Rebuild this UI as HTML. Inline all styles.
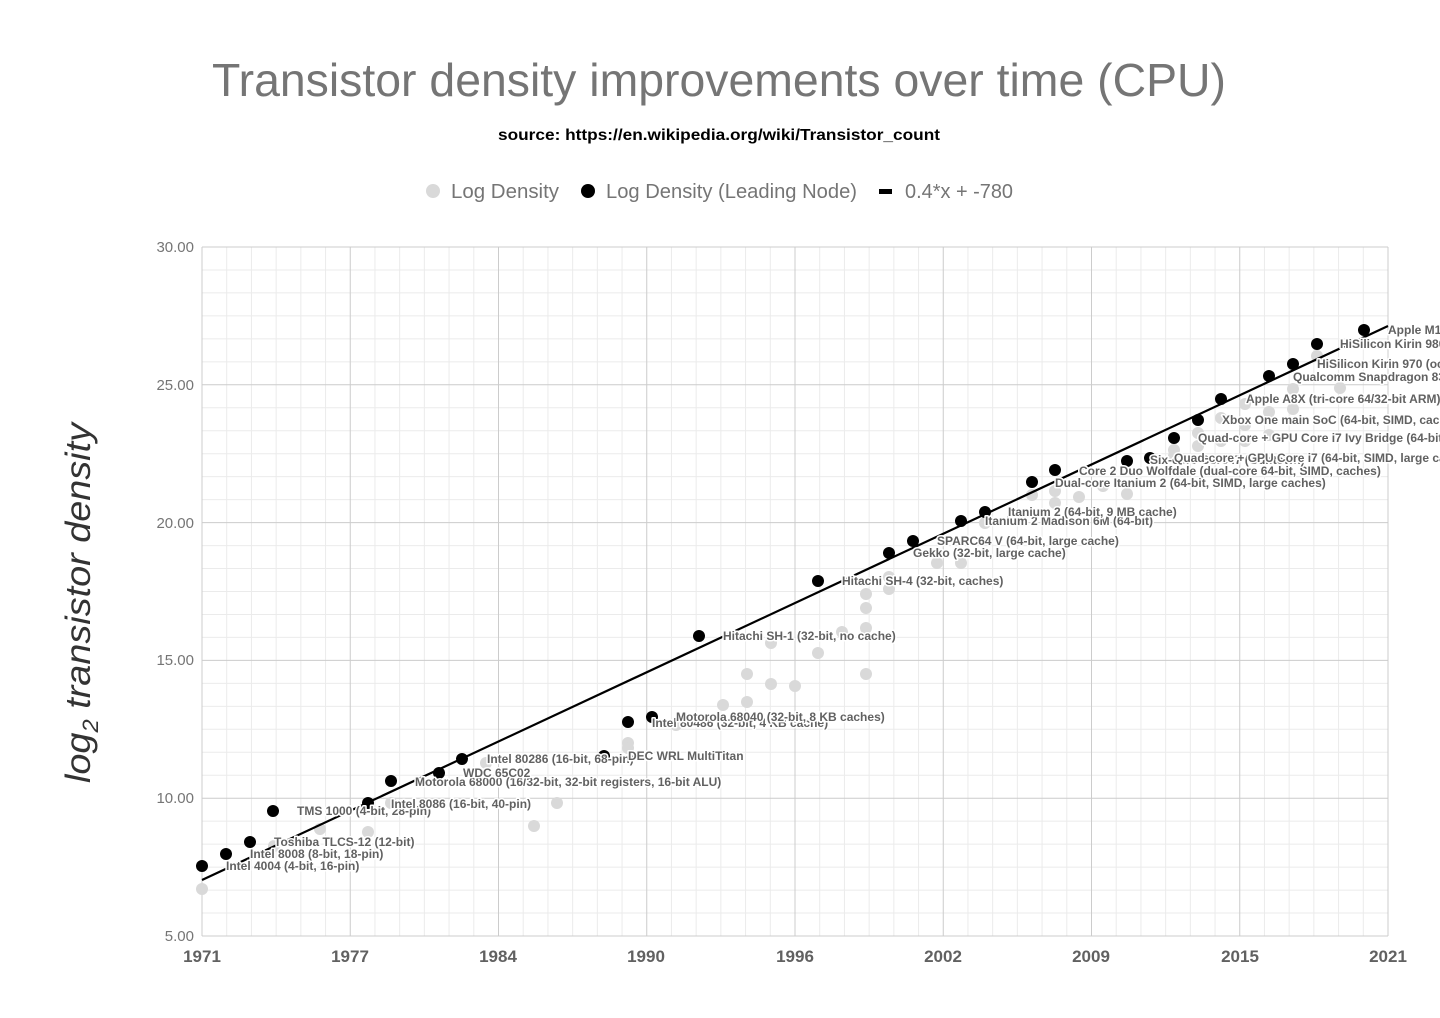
<!DOCTYPE html>
<html><head><meta charset="utf-8"><style>
html,body{margin:0;padding:0;background:#fff}
svg{display:block}
text{font-family:"Liberation Sans",sans-serif}
.lbl{font-size:12px;font-weight:bold;fill:#616161;stroke:#fff;stroke-width:3px;paint-order:stroke;stroke-linejoin:round}
</style></head><body>
<svg width="1440" height="1018" viewBox="0 0 1440 1018" xmlns="http://www.w3.org/2000/svg">
<text x="719" y="96" text-anchor="middle" font-size="46" fill="#757575" textLength="1014" lengthAdjust="spacingAndGlyphs">Transistor density improvements over time (CPU)</text>
<text x="719" y="140" text-anchor="middle" font-size="16" font-weight="bold" fill="#000" textLength="442" lengthAdjust="spacingAndGlyphs">source: https://en.wikipedia.org/wiki/Transistor_count</text>
<circle cx="433" cy="191" r="7" fill="#d9d9d9"/>
<text x="451" y="198" font-size="20" fill="#757575" textLength="108" lengthAdjust="spacingAndGlyphs">Log Density</text>
<circle cx="588" cy="191" r="7" fill="#000"/>
<text x="606" y="198" font-size="20" fill="#757575" textLength="251" lengthAdjust="spacingAndGlyphs">Log Density (Leading Node)</text>
<rect x="879" y="189" width="13" height="5" fill="#000"/>
<text x="905" y="198" font-size="20" fill="#757575" textLength="108" lengthAdjust="spacingAndGlyphs">0.4*x + -780</text>
<g id="grid" stroke="#ebebeb" stroke-width="1"></g>
<g id="major" stroke="#cccccc" stroke-width="1"></g>
<g font-size="15" fill="#757575" text-anchor="end">
<text x="194" y="252">30.00</text><text x="194" y="390">25.00</text><text x="194" y="528">20.00</text><text x="194" y="665">15.00</text><text x="194" y="803">10.00</text><text x="194" y="941">5.00</text>
</g>
<g font-size="17" font-weight="bold" fill="#616161" text-anchor="middle">
<text x="202" y="962">1971</text><text x="350" y="962">1977</text><text x="498" y="962">1984</text><text x="646" y="962">1990</text><text x="795" y="962">1996</text><text x="943" y="962">2002</text><text x="1091" y="962">2009</text><text x="1240" y="962">2015</text><text x="1388" y="962">2021</text>
</g>
<text transform="translate(90,603) rotate(-90)" text-anchor="middle" font-size="35" font-style="italic" fill="#333" textLength="360" lengthAdjust="spacingAndGlyphs">log<tspan font-size="22" dy="8">2</tspan><tspan dy="-8"> transistor density</tspan></text>
<g id="gray" fill="#d9d9d9"></g>
<line x1="202" y1="880" x2="1388" y2="326" stroke="#000" stroke-width="2.2"/>
<g id="black" fill="#000"></g>
<g class="lbl">
<text x="226" y="870">Intel 4004 (4-bit, 16-pin)</text>
<text x="250" y="858">Intel 8008 (8-bit, 18-pin)</text>
<text x="274" y="846">Toshiba TLCS-12 (12-bit)</text>
<text x="297" y="815">TMS 1000 (4-bit, 28-pin)</text>
<text x="391" y="808">Intel 8086 (16-bit, 40-pin)</text>
<text x="487" y="763">Intel 80286 (16-bit, 68-pin)</text>
<text x="415" y="786">Motorola 68000 (16/32-bit, 32-bit registers, 16-bit ALU)</text>
<text x="463" y="777">WDC 65C02</text>
<text x="628" y="760">DEC WRL MultiTitan</text>
<text x="652" y="727">Intel 80486 (32-bit, 4 KB cache)</text>
<text x="676" y="721">Motorola 68040 (32-bit, 8 KB caches)</text>
<text x="723" y="640">Hitachi SH-1 (32-bit, no cache)</text>
<text x="842" y="585">Hitachi SH-4 (32-bit, caches)</text>
<text x="913" y="557">Gekko (32-bit, large cache)</text>
<text x="937" y="545">SPARC64 V (64-bit, large cache)</text>
<text x="985" y="525">Itanium 2 Madison 6M (64-bit)</text>
<text x="1008" y="516">Itanium 2 (64-bit, 9 MB cache)</text>
<text x="1055" y="487">Dual-core Itanium 2 (64-bit, SIMD, large caches)</text>
<text x="1079" y="475">Core 2 Duo Wolfdale (dual-core 64-bit, SIMD, caches)</text>
<text x="1150" y="464">Six-core Core i7 (Gulftown)</text>
<text x="1174" y="462">Quad-core + GPU Core i7 (64-bit, SIMD, large caches)</text>
<text x="1198" y="442">Quad-core + GPU Core i7 Ivy Bridge (64-bit, SIMD, caches)</text>
<text x="1222" y="424">Xbox One main SoC (64-bit, SIMD, caches)</text>
<text x="1246" y="403">Apple A8X (tri-core 64/32-bit ARM)</text>
<text x="1293" y="381">Qualcomm Snapdragon 835</text>
<text x="1317" y="368">HiSilicon Kirin 970 (octa-core)</text>
<text x="1340" y="348">HiSilicon Kirin 980</text>
<text x="1388" y="334">Apple M1</text>
</g>
</svg>
<script>
var ns="http://www.w3.org/2000/svg";
function L(g,x1,y1,x2,y2){var l=document.createElementNS(ns,"line");l.setAttribute("x1",x1);l.setAttribute("y1",y1);l.setAttribute("x2",x2);l.setAttribute("y2",y2);g.appendChild(l);}
var g=document.getElementById("grid"),m=document.getElementById("major");
for(var i=0;i<=48;i++){var x=202+i*1186/48;L(i%6?g:m,x,247,x,936);}
for(var j=0;j<=30;j++){var y=247+j*689/30;L(j%6?g:m,202,y,1388,y);}
function C(id,pts,r){var gg=document.getElementById(id);for(var k=0;k<pts.length;k+=2){var c=document.createElementNS(ns,"circle");c.setAttribute("cx",pts[k]);c.setAttribute("cy",pts[k+1]);c.setAttribute("r",r);gg.appendChild(c);}}
C("gray",[202,889,274,846,320,829,368,832,391,803,486,763,534,826,557,803,628,743,628,748,676,725,723,705,747,674,747,702,771,643,771,684,795,686,818,653,842,632,866,594,866,608,866,628,866,674,889,589,889,577,937,563,961,563,985,523,1032,495,1055,491,1055,503,1079,497,1103,486,1127,494,1174,450,1198,446,1221,441,1245,425,1269,412,1293,409,1269,435,1245,441,1174,456,1198,433,1221,418,1293,389,1317,356,1340,388,1245,404],6);
C("black",[202,866,226,854,250,842,273,811,368,803,391,781,439,773,462,759,604,756,628,722,652,717,699,636,818,581,889,553,913,541,961,521,985,512,1032,482,1055,470,1127,461,1150,458,1174,438,1198,420,1221,399,1269,376,1293,364,1317,344,1364,330],6);
</script>
</body></html>
